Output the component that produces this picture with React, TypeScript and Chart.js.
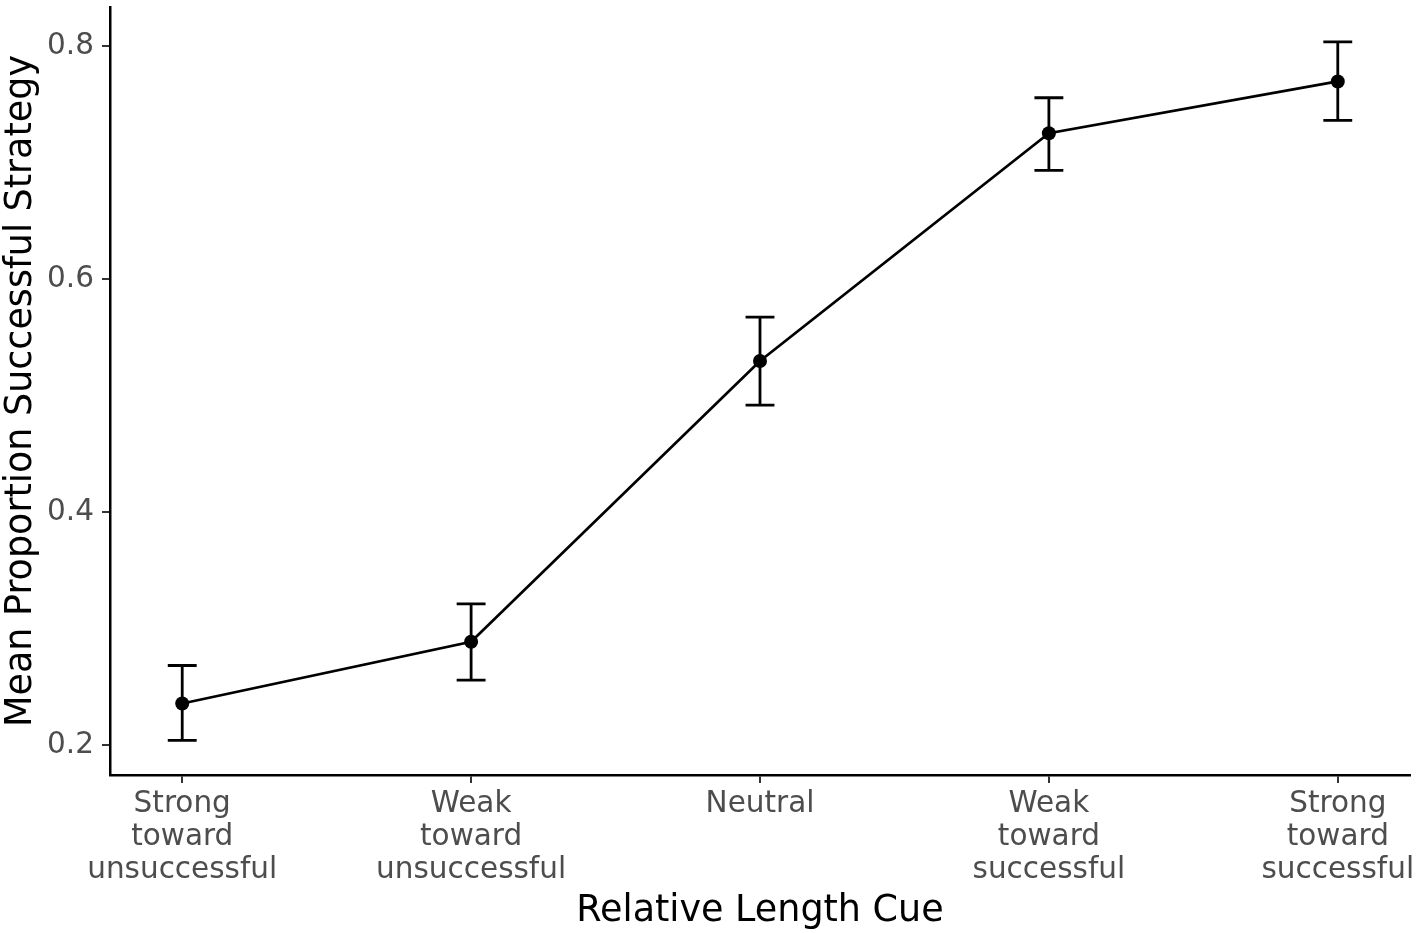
import React, { useEffect, useRef } from "react";
import { Chart, registerables } from "chart.js";

Chart.register(...registerables);

const categories: string[][] = [
  ["Strong", "toward", "unsuccessful"],
  ["Weak", "toward", "unsuccessful"],
  ["Neutral"],
  ["Weak", "toward", "successful"],
  ["Strong", "toward", "successful"],
];
const means: number[] = [0.236, 0.289, 0.53, 0.7255, 0.770];
const upper: number[] = [0.2686, 0.3215, 0.5676, 0.756, 0.804];
const lower: number[] = [0.2043, 0.2561, 0.4922, 0.6937, 0.7366];
const yTicks: number[] = [0.2, 0.4, 0.6, 0.8];

const FONT = "'DejaVu Sans', sans-serif";

const errorBarPlugin = {
  id: "errorBars",
  beforeDatasetsDraw(chart: any) {
    const { ctx, scales } = chart;
    const xs = scales.x;
    const ys = scales.y;
    ctx.save();
    ctx.strokeStyle = "#000";
    ctx.lineWidth = 2.8;
    ctx.lineCap = "butt";
    for (let i = 0; i < means.length; i++) {
      const xc = xs.getPixelForValue(i);
      const xl = xs.getPixelForValue(i - 0.05);
      const xr = xs.getPixelForValue(i + 0.05);
      const yt = ys.getPixelForValue(upper[i]);
      const yb = ys.getPixelForValue(lower[i]);
      ctx.beginPath();
      ctx.moveTo(xc, yt);
      ctx.lineTo(xc, yb);
      ctx.moveTo(xl, yt);
      ctx.lineTo(xr, yt);
      ctx.moveTo(xl, yb);
      ctx.lineTo(xr, yb);
      ctx.stroke();
    }
    ctx.restore();
  },
};

export default function App() {
  const ref = useRef<HTMLCanvasElement | null>(null);
  useEffect(() => {
    if (!ref.current) return;
    const chart = new Chart(ref.current, {
      type: "line",
      data: {
        datasets: [
          {
            data: means.map((m, i) => ({ x: i, y: m })),
            borderColor: "#000",
            borderWidth: 2.7,
            pointRadius: 7,
            pointBackgroundColor: "#000",
            pointBorderWidth: 0,
            fill: false,
            tension: 0,
          },
        ],
      },
      options: {
        animation: false,
        responsive: true,
        maintainAspectRatio: false,
        layout: { padding: { top: -3, right: 7, left: 0, bottom: 0 } },
        plugins: { legend: { display: false }, tooltip: { enabled: false } },
        scales: {
          x: {
            type: "linear",
            min: -0.25,
            max: 4.25,
            afterBuildTicks: (s: any) => {
              s.ticks = categories.map((_, i) => ({ value: i }));
            },
            afterFit: (s: any) => {
              s.height = 158;
              s.paddingLeft = 0;
              s.paddingRight = 0;
            },
            ticks: {
              autoSkip: false,
              maxRotation: 0,
              minRotation: 0,
              padding: 5,
              color: "#4d4d4d",
              font: { family: FONT, size: 29.5, lineHeight: 1.12 },
              callback: (v: any) => categories[Math.round(Number(v))] ?? "",
            },
            grid: {
              drawOnChartArea: false,
              drawTicks: true,
              tickLength: 8,
              color: "#333",
              lineWidth: 2,
            },
            border: { display: true, color: "#000", width: 2.5 },
            title: {
              display: true,
              text: "Relative Length Cue",
              color: "#000",
              font: { family: FONT, size: 36.5 },
              padding: { top: 0, bottom: 0 },
            },
          },
          y: {
            type: "linear",
            min: 0.1746,
            max: 0.8339,
            afterBuildTicks: (s: any) => {
              s.ticks = yTicks.map((v) => ({ value: v }));
            },
            afterFit: (s: any) => {
              s.width = 110;
              s.paddingTop = 0;
              s.paddingBottom = 0;
            },
            ticks: {
              padding: 8,
              color: "#4d4d4d",
              font: { family: FONT, size: 29.5 },
              callback: (v: any) => Number(v).toFixed(1),
            },
            grid: {
              drawOnChartArea: false,
              drawTicks: true,
              tickLength: 8,
              color: "#333",
              lineWidth: 2,
            },
            border: { display: true, color: "#000", width: 2.5 },
            title: {
              display: true,
              text: "Mean Proportion Successful Strategy",
              color: "#000",
              font: { family: FONT, size: 36.5 },
              padding: { top: 0, bottom: 0 },
            },
          },
        },
      },
      plugins: [errorBarPlugin],
    });
    return () => chart.destroy();
  }, []);
  return (
    <div style={{ position: "fixed", left: 0, top: 0, width: 1417, height: 933, background: "#fff" }}>
      <canvas ref={ref} />
    </div>
  );
}
